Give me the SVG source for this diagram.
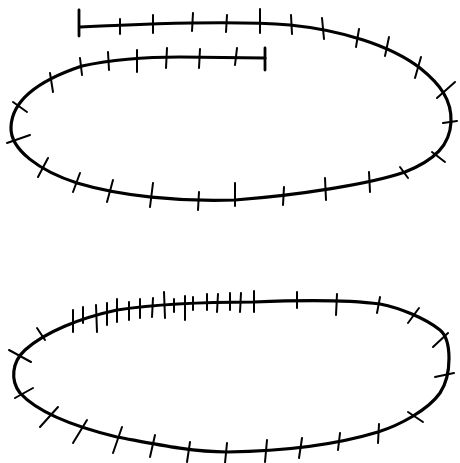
<svg xmlns="http://www.w3.org/2000/svg" width="460" height="463" viewBox="0 0 460 463">
<style>
.curve{fill:none;stroke:#000;stroke-width:3.2;stroke-linecap:round;stroke-linejoin:round}
.tick{fill:none;stroke:#000;stroke-width:2;stroke-linecap:round}
.bar{fill:none;stroke:#000;stroke-width:2.8;stroke-linecap:round}
</style>
<rect width="460" height="463" fill="#fff"/>
<g id="top-figure">
<path class="curve" d="M80,27 C140,24 230,20 290,25 C340,30 390,45 420,68 C440,84 452,100 451,122 C450,145 435,160 405,172 C370,184 300,195 235,200 C180,202 120,196 77,183 C40,171 10,150 11,127 C12,100 40,80 82,66 C110,60 140,57 180,57 L265,58"/>
<line class="bar" x1="79" y1="10" x2="79" y2="36"/>
<line class="bar" x1="265" y1="48" x2="265" y2="70"/>
<g class="tick">
<line x1="120" y1="19" x2="120" y2="34"/>
<line x1="153" y1="15" x2="153" y2="33"/>
<line x1="193" y1="13" x2="192" y2="31"/>
<line x1="227" y1="15" x2="226" y2="32"/>
<line x1="260" y1="9" x2="260" y2="33"/>
<line x1="291" y1="15" x2="292" y2="34"/>
<line x1="322" y1="18" x2="324" y2="39"/>
<line x1="359" y1="29" x2="356" y2="47"/>
<line x1="389" y1="37" x2="385" y2="56"/>
<line x1="421" y1="57" x2="415" y2="78"/>
<line x1="455" y1="82" x2="437" y2="98"/>
<line x1="443" y1="123" x2="457" y2="121"/>
<line x1="432" y1="152" x2="445" y2="162"/>
<line x1="400" y1="167" x2="408" y2="178"/>
<line x1="369" y1="172" x2="370" y2="192"/>
<line x1="325" y1="178" x2="326" y2="200"/>
<line x1="284" y1="187" x2="283" y2="205"/>
<line x1="235" y1="183" x2="235" y2="206"/>
<line x1="199" y1="192" x2="198" y2="210"/>
<line x1="153" y1="183" x2="150" y2="207"/>
<line x1="113" y1="180" x2="107" y2="202"/>
<line x1="80" y1="173" x2="73" y2="192"/>
<line x1="48" y1="158" x2="38" y2="177"/>
<line x1="7" y1="143" x2="30" y2="135"/>
<line x1="13" y1="102" x2="27" y2="112"/>
<line x1="50" y1="73" x2="53" y2="92"/>
<line x1="80" y1="58" x2="82" y2="75"/>
<line x1="108" y1="52" x2="109" y2="70"/>
<line x1="137" y1="50" x2="137" y2="72"/>
<line x1="167" y1="48" x2="166" y2="68"/>
<line x1="200" y1="49" x2="199" y2="68"/>
<line x1="237" y1="48" x2="235" y2="65"/>
</g>
</g>
<g id="bottom-figure">
<path class="curve" d="M254,302 C300,300 350,300 380,304 C400,308 425,318 440,330 C452,340 452,375 440,393 C428,410 400,425 378,432 C345,442 300,451 227,452 C190,452 150,443 117,437 C80,428 40,415 20,393 C10,380 12,362 25,350 C45,332 80,318 117,310 C150,305 200,302 254,302 Z"/>
<g class="tick">
<line x1="73" y1="310" x2="73" y2="332"/>
<line x1="83" y1="307" x2="83" y2="323"/>
<line x1="96" y1="305" x2="97" y2="332"/>
<line x1="107" y1="303" x2="107" y2="325"/>
<line x1="117" y1="299" x2="117" y2="322"/>
<line x1="129" y1="302" x2="129" y2="320"/>
<line x1="140" y1="299" x2="140" y2="318"/>
<line x1="153" y1="298" x2="152" y2="317"/>
<line x1="164" y1="292" x2="165" y2="318"/>
<line x1="174" y1="299" x2="174" y2="312"/>
<line x1="185" y1="296" x2="185" y2="320"/>
<line x1="193" y1="297" x2="193" y2="310"/>
<line x1="207" y1="294" x2="207" y2="310"/>
<line x1="218" y1="294" x2="217" y2="312"/>
<line x1="230" y1="293" x2="230" y2="310"/>
<line x1="241" y1="293" x2="240" y2="312"/>
<line x1="254" y1="291" x2="254" y2="312"/>
<line x1="297" y1="292" x2="297" y2="308"/>
<line x1="337" y1="294" x2="336" y2="315"/>
<line x1="380" y1="297" x2="377" y2="313"/>
<line x1="408" y1="323" x2="419" y2="308"/>
<line x1="433" y1="347" x2="448" y2="333"/>
<line x1="435" y1="377" x2="454" y2="373"/>
<line x1="408" y1="412" x2="423" y2="422"/>
<line x1="379" y1="424" x2="378" y2="443"/>
<line x1="340" y1="433" x2="338" y2="450"/>
<line x1="302" y1="438" x2="299" y2="458"/>
<line x1="267" y1="440" x2="265" y2="462"/>
<line x1="227" y1="443" x2="225" y2="463"/>
<line x1="190" y1="442" x2="187" y2="462"/>
<line x1="155" y1="435" x2="150" y2="457"/>
<line x1="122" y1="427" x2="113" y2="453"/>
<line x1="87" y1="420" x2="73" y2="443"/>
<line x1="58" y1="407" x2="40" y2="427"/>
<line x1="15" y1="398" x2="33" y2="388"/>
<line x1="9" y1="350" x2="31" y2="362"/>
<line x1="37" y1="328" x2="45" y2="340"/>
</g>
</g>
</svg>
